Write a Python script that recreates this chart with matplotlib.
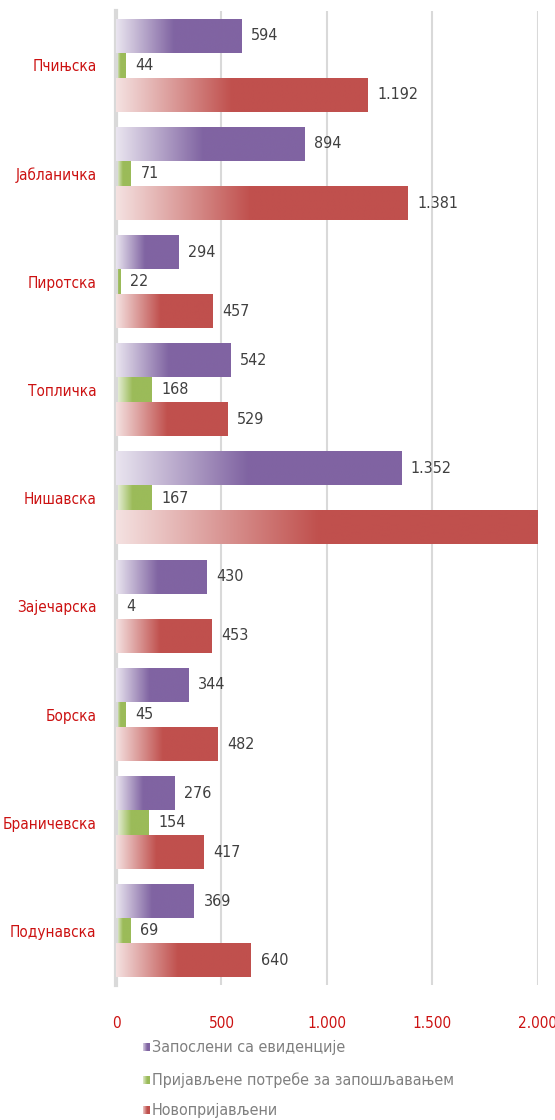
import numpy as np
import matplotlib
matplotlib.use("Agg")
from matplotlib import pyplot as plt
from matplotlib import colors as mcolors

# data
regions = ['Пчињска', 'Јабланичка', 'Пиротска', 'Топличка', 'Нишавска',
           'Зајечарска', 'Борска', 'Браничевска', 'Подунавска']
zaposleni = [594, 894, 294, 542, 1352, 430, 344, 276, 369]
potrebe = [44, 71, 22, 168, 167, 4, 45, 154, 69]
novoprijavljeni = [1192, 1381, 457, 529, 2090, 453, 482, 417, 640]
series_names = ['Запослени са евиденције',
                'Пријављене потребе за запошљавањем',
                'Новопријављени']
xticks = [0, 500, 1000, 1500, 2000]

PURPLE = '#8064A2'
GREEN = '#9BBB59'
RED = '#C0504D'
LABEL_RED = '#CC1111'

plt.rcParams['font.family'] = ['DejaVu Sans']
plt.rcParams['font.stretch'] = 'condensed'


def gradient(color, n=200, full_at=0.46, light=0.17):
    c = np.array(mcolors.to_rgb(color))
    t = np.clip(np.linspace(0, 1, n) / full_at, 0, 1)
    mix = light + (1 - light) * t
    rgb = 1 - (1 - c)[None, :] * mix[:, None]
    return rgb[None, :, :]


def fmt(v):
    return f'{v:,}'.replace(',', '.')


fig = plt.figure(figsize=(5.55, 11.2), dpi=100)
ax = fig.add_axes([0.209, 0.1205, 0.760, 0.8695])

xmax = 2000
ypos = np.arange(len(regions))
step = 0.273
height = 0.31
series = [(zaposleni, PURPLE, -step, 3), (potrebe, GREEN, 0, 2),
          (novoprijavljeni, RED, step, 4)]

for vals, col, off, z in series:
    img = gradient(col)
    for y, v in zip(ypos, vals):
        yc = y + off
        ax.imshow(img, extent=(0, v, yc + height / 2, yc - height / 2),
                  aspect='auto', interpolation='bilinear', zorder=z)
        if v <= xmax:
            ax.annotate(fmt(v), (v, yc), xytext=(7, 0),
                        textcoords='offset points', va='center', ha='left',
                        fontsize=11.5, color='#404040', zorder=6)

ax.set_xlim(0, xmax)
ax.set_ylim(len(regions) - 0.5, -0.5)
ax.set_xticks(xticks)
ax.set_xticklabels([fmt(t) for t in xticks], color=LABEL_RED, fontsize=11)
ax.set_yticks(ypos)
ax.set_yticklabels(regions, color=LABEL_RED, fontsize=11)
ax.tick_params(axis='x', length=0, pad=22)
ax.tick_params(axis='y', length=0, pad=14)
ax.grid(axis='x', color='#d9d9d9', linewidth=1.5, zorder=0)
ax.set_axisbelow(True)
for s in ['top', 'right', 'bottom']:
    ax.spines[s].set_visible(False)
ax.spines['left'].set_color('#d9d9d9')
ax.spines['left'].set_linewidth(3)

# legend with small gradient squares
leg_y = [1047, 1080, 1110]
for name, (vals, col, off, z), yy in zip(series_names, series, leg_y):
    fy = 1 - yy / 1120
    sq = fig.add_axes([143 / 555, fy - 4 / 1120, 7 / 555, 8 / 1120])
    sq.imshow(gradient(col, full_at=0.6, light=0.3), aspect='auto',
              interpolation='bilinear')
    sq.axis('off')
    fig.text(152 / 555, fy, name, color='#7f7f7f', fontsize=11.5,
             va='center', ha='left')

fig.savefig('out.png', dpi=100)
